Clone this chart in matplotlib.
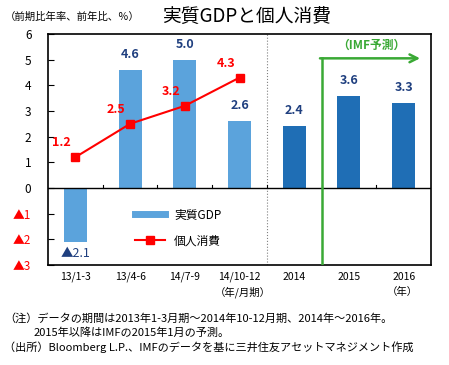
import numpy as np
import matplotlib.pyplot as plt
from matplotlib.lines import Line2D

plt.rcParams['font.family'] = ['Noto Sans CJK JP', 'DejaVu Sans']

# データ
categories = ['13/1-3', '13/4-6', '14/7-9', '14/10-12', '2014', '2015', '2016']
gdp = [-2.1, 4.6, 5.0, 2.6, 2.4, 3.6, 3.3]
consumption = [1.2, 2.5, 3.2, 4.3]
yticks = [-3, -2, -1, 0, 1, 2, 3, 4, 5, 6]
ytick_labels = ['▲3', '▲2', '▲1', '0', '1', '2', '3', '4', '5', '6']

light_blue = '#5ba3dc'
dark_blue = '#1f6eb5'
navy = '#1f3f7f'
green = '#3aa935'

fig = plt.figure(figsize=(4.49, 3.65), dpi=100)
ax = fig.add_axes([0.107, 0.274, 0.853, 0.633])

x = np.arange(len(categories))
colors = [light_blue] * 4 + [dark_blue] * 3
ax.bar(x, gdp, width=0.42, color=colors, zorder=2)
line, = ax.plot(x[:4], consumption, color='red', marker='s', markersize=6, lw=1.5,
                zorder=3)

# ラベル
for i, v in enumerate(gdp):
    if v >= 0:
        ax.text(i, v + 0.35, f'{v:.1f}', ha='center', va='bottom',
                color=navy, fontsize=9, fontweight='bold')
    else:
        ax.text(i, v - 0.2, f'▲{abs(v):.1f}', ha='center', va='top',
                color=navy, fontsize=9)
for i, v in enumerate(consumption):
    ax.text(i - 0.25, v + 0.3, f'{v:.1f}', ha='center', va='bottom',
            color='red', fontsize=9, fontweight='bold')

ax.axhline(0, color='black', lw=1, zorder=4)
for b in np.arange(0.5, 6, 1):
    ax.plot([b, b], [0, 0.12], color='black', lw=0.8, zorder=4)

ax.axvline(3.5, color='grey', lw=0.8, ls=':', zorder=1)

# IMF予測
ax.plot([4.5, 4.5], [-3, 5.05], color=green, lw=1.8, zorder=5)
ax.annotate('', xy=(6.3, 5.05), xytext=(4.47, 5.05), annotation_clip=False,
            arrowprops=dict(arrowstyle='->', color=green, lw=1.8,
                            mutation_scale=14, shrinkA=0, shrinkB=0))
ax.text(5.4, 5.55, '（IMF予測）', ha='center', va='center', color=green,
        fontsize=8.5, fontweight='bold')

ax.set_xlim(-0.5, 6.5)
ax.set_ylim(-3, 6)
ax.set_xticks(x)
ax.set_xticklabels(categories, fontsize=7.5)
ax.tick_params(axis='x', length=0, pad=5)
ax.set_yticks(yticks)
ax.set_yticklabels(ytick_labels, fontsize=8.5)
ax.tick_params(axis='y', length=4, direction='in', pad=12)
for lbl in ax.get_yticklabels():
    if lbl.get_text().startswith('▲'):
        lbl.set_color('red')
for s in ax.spines.values():
    s.set_linewidth(1.2)

gdp_handle = Line2D([], [], color=light_blue, lw=5)
con_handle = Line2D([], [], color='red', marker='s', markersize=6, lw=1.5)
ax.legend([gdp_handle, con_handle], ['実質GDP', '個人消費'],
          loc='lower left', bbox_to_anchor=(0.2, 0.03), frameon=False,
          fontsize=8.5, handlelength=2.5, labelspacing=1.1)

fig.text(0.54, 0.2, '（年/月期）', fontsize=7.5, ha='center', va='center')
fig.text(0.895, 0.2, '（年）', fontsize=7.5, ha='center', va='center')

fig.text(0.55, 0.952, '実質GDPと個人消費', ha='center', va='center', fontsize=13.5)
fig.text(0.01, 0.955, '（前期比年率、前年比、％）', ha='left', va='center', fontsize=7.5)

fig.text(0.01, 0.128, '（注）データの期間は2013年1-3月期～2014年10-12月期、2014年～2016年。',
         fontsize=8, va='center')
fig.text(0.075, 0.088, '2015年以降はIMFの2015年1月の予測。', fontsize=8, va='center')
fig.text(0.01, 0.048, '（出所）Bloomberg L.P.、IMFのデータを基に三井住友アセットマネジメント作成',
         fontsize=8, va='center')

fig.savefig('out.png', dpi=100)
